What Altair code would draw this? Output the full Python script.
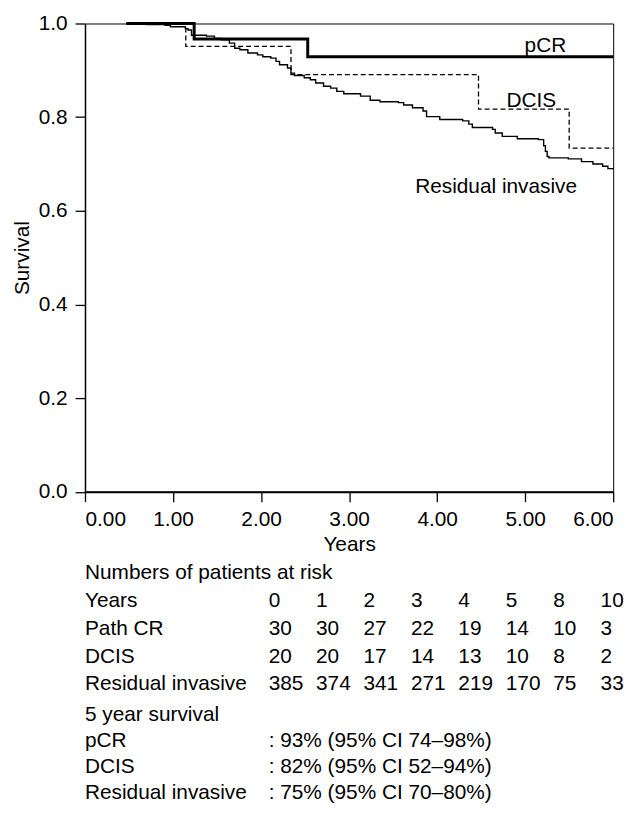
import altair as alt
import pandas as pd

FONT = "Liberation Sans"
FS = 21

# ---- Kaplan-Meier curves ----
pcr_t = [0.47, 1.24, 2.53, 6.0]
pcr_s = [1.0, 0.967, 0.929, 0.929]

dcis_t = [0.47, 1.145, 2.34, 4.47, 5.50, 6.0]
dcis_s = [1.0, 0.951, 0.891, 0.817, 0.734, 0.734]

res_t = [0.47, 0.70, 0.91, 0.97, 1.14, 1.17, 1.21, 1.38, 1.47, 1.55, 1.64, 1.70,
         1.76, 1.85, 1.96, 2.02, 2.11, 2.17, 2.21, 2.30, 2.34, 2.38, 2.49, 2.56,
         2.62, 2.71, 2.79, 2.86, 2.94, 3.13, 3.24, 3.35, 3.56, 3.62, 3.72, 3.84,
         3.88, 4.03, 4.29, 4.36, 4.40, 4.63, 4.66, 4.74, 4.91, 5.15, 5.21, 5.23,
         5.25, 5.27, 5.49, 5.64, 5.77, 5.88, 5.94, 6.0]
res_s = [1.0, 0.998, 0.996, 0.993, 0.989, 0.986, 0.975, 0.973, 0.968, 0.965, 0.958, 0.947,
         0.944, 0.937, 0.933, 0.929, 0.926, 0.919, 0.912, 0.905, 0.894, 0.889, 0.884, 0.880,
         0.873, 0.866, 0.862, 0.855, 0.850, 0.845, 0.836, 0.833, 0.831, 0.826, 0.820, 0.813,
         0.801, 0.795, 0.792, 0.785, 0.778, 0.774, 0.766, 0.759, 0.754, 0.752, 0.739, 0.727,
         0.716, 0.713, 0.711, 0.705, 0.700, 0.695, 0.690, 0.688]

curve_labels = ["pCR", "DCIS", "Residual invasive"]
curve_label_t = [5.23, 5.07, 4.67]
curve_label_s = [0.951, 0.834, 0.651]

# ---- Numbers at risk table ----
risk_years = ["0", "1", "2", "3", "4", "5", "8", "10"]
risk_pathcr = [30, 30, 27, 22, 19, 14, 10, 3]
risk_dcis = [20, 20, 17, 14, 13, 10, 8, 2]
risk_resid = [385, 374, 341, 271, 219, 170, 75, 33]
block1_rows = ["Numbers of patients at risk", "Years", "Path CR", "DCIS", "Residual invasive"]

# ---- 5 year survival ----
block2_rows = ["5 year survival", "pCR", "DCIS", "Residual invasive"]
surv5_text = ["", ": 93% (95% CI 74\u201398%)", ": 82% (95% CI 52\u201394%)", ": 75% (95% CI 70\u201380%)"]

# ---------------------------------------------------------------
pcr_df = pd.DataFrame({"t": pcr_t, "s": pcr_s})
dcis_df = pd.DataFrame({"t": dcis_t, "s": dcis_s})
res_df = pd.DataFrame({"t": res_t, "s": res_s})
lab_df = pd.DataFrame({"label": curve_labels, "t": curve_label_t, "s": curve_label_s})

xenc = alt.X("t:Q", scale=alt.Scale(domain=[0, 6], nice=False),
             axis=alt.Axis(values=[0, 1, 2, 3, 4, 5, 6], format=".2f", title="Years",
                           domainWidth=2, tickSize=10, labelPadding=7, titlePadding=4))
yenc = alt.Y("s:Q", scale=alt.Scale(domain=[0, 1], nice=False),
             axis=alt.Axis(values=[0, 0.2, 0.4, 0.6, 0.8, 1.0], format=".1f", title="Survival",
                           domainWidth=1.5, tickSize=10, labelPadding=8, titlePadding=6))

pcr_line = alt.Chart(pcr_df).mark_line(interpolate="step-after", color="black",
                                       strokeWidth=3).encode(x=xenc, y=yenc)
dcis_line = alt.Chart(dcis_df).mark_line(interpolate="step-after", color="black",
                                         strokeWidth=1.3, strokeDash=[5, 3]).encode(x=xenc, y=yenc)
res_line = alt.Chart(res_df).mark_line(interpolate="step-after", color="black",
                                       strokeWidth=1.4).encode(x=xenc, y=yenc)
labels = alt.Chart(lab_df).mark_text(font=FONT, fontSize=FS, color="black",
                                     baseline="middle", align="center").encode(
    x="t:Q", y="s:Q", text="label:N")

curves = alt.layer(res_line, dcis_line, pcr_line, labels)

# table block 1
b1_label_df = pd.DataFrame({"row": block1_rows})
b1_cells = []
for rname, vals in [("Years", risk_years), ("Path CR", risk_pathcr),
                    ("DCIS", risk_dcis), ("Residual invasive", risk_resid)]:
    for i, v in enumerate(vals):
        b1_cells.append({"row": rname, "col": i, "txt": str(v)})
b1_cells_df = pd.DataFrame(b1_cells)

col_scale = alt.Scale(domain=[0, 7], range=[185.3, 520.3])
b1_y = alt.Y("row:N", scale=alt.Scale(domain=block1_rows, range=[555, 667], padding=0), axis=None)

b1_labels = alt.Chart(b1_label_df).mark_text(font=FONT, fontSize=FS, color="black",
                                             align="left", baseline="middle").encode(
    x=alt.value(0), y=b1_y, text="row:N")
b1_nums = alt.Chart(b1_cells_df).mark_text(font=FONT, fontSize=FS, color="black",
                                           align="left", baseline="middle").encode(
    x=alt.X("col:Q", scale=col_scale, axis=None), y=b1_y, text="txt:N")
block1 = alt.layer(b1_labels, b1_nums)

# table block 2
b2_df = pd.DataFrame({"row": block2_rows, "txt": surv5_text, "col": [0] * len(block2_rows)})
b2_y = alt.Y("row:N", scale=alt.Scale(domain=block2_rows, range=[698, 777], padding=0), axis=None)
b2_labels = alt.Chart(b2_df).mark_text(font=FONT, fontSize=FS, color="black",
                                       align="left", baseline="middle").encode(
    x=alt.value(0), y=b2_y, text="row:N")
b2_vals = alt.Chart(b2_df).mark_text(font=FONT, fontSize=FS, color="black",
                                     align="left", baseline="middle").encode(
    x=alt.X("col:Q", scale=col_scale, axis=None), y=b2_y, text="txt:N")
block2 = alt.layer(b2_labels, b2_vals)

chart = alt.layer(curves, block1, block2).resolve_scale(
    x="independent", y="independent"
).properties(
    width=533, height=472.5,
    autosize=alt.AutoSizeParams(type="none"),
    padding={"left": 77.7, "top": 12, "right": 21, "bottom": 315},
).configure_view(
    stroke="black", strokeWidth=1
).configure_axis(
    grid=False, domainColor="black", tickColor="black", tickWidth=1.3,
    labelColor="black", titleColor="black",
    labelFont=FONT, titleFont=FONT, labelFontSize=FS, titleFontSize=FS,
    titleFontWeight="normal"
)

chart.save("out.html", embed_options={"renderer": "svg", "actions": False})
